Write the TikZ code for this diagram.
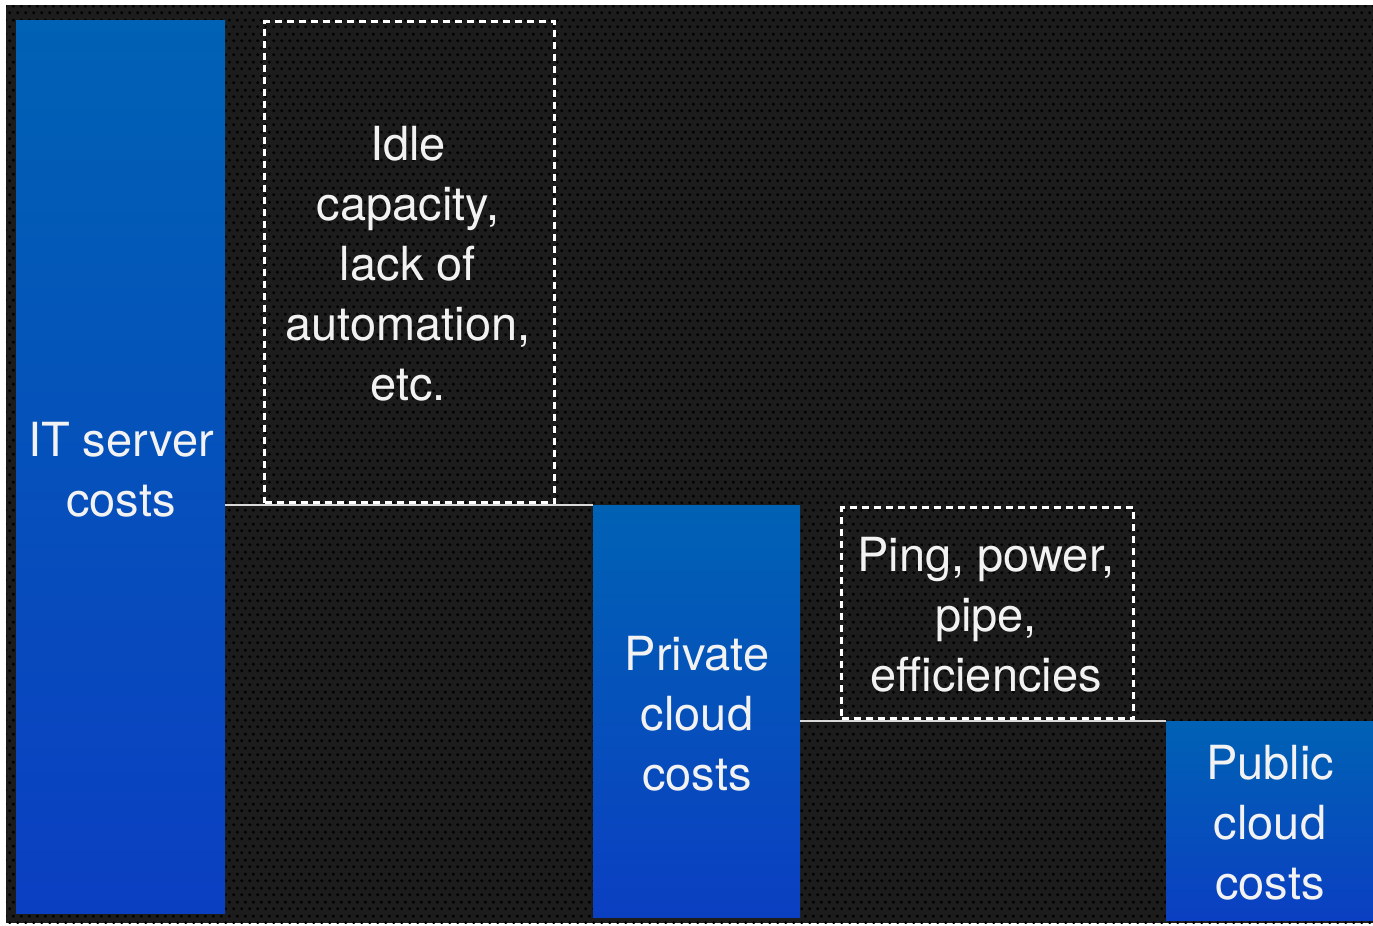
\documentclass[tikz,border=0pt]{standalone}
\usepackage{fontspec}
\setmainfont{TeX Gyre Heros}
\usetikzlibrary{patterns.meta}
\definecolor{bartop}{HTML}{0062B4}
\definecolor{barbot}{HTML}{0B3FC2}
\definecolor{bgdark}{HTML}{1C1C1C}
\definecolor{txt}{HTML}{F2F2F2}
\definecolor{linegray}{HTML}{D8D8D8}
\tikzdeclarepattern{
  name=hexholes,
  type=uncolored,
  bounding box={(0pt,0pt) and (8pt,14pt)},
  tile size={(8pt,14pt)},
  code={
    \fill (2pt,3.5pt) circle (1.8pt);
    \fill (6pt,10.5pt) circle (1.8pt);
  }
}
\tikzset{
  bar/.style={draw=none, top color=bartop, bottom color=barbot, inner sep=0pt, anchor=north west},
  dbox/.style={draw=white, line width=3pt, dash pattern=on 7pt off 5pt, inner sep=0pt, anchor=north west},
  hline/.style={draw=linegray, line width=2pt},
  lbl/.style={text=txt, align=center, font=\fontsize{47}{60}\selectfont, inner sep=0pt}
}
\begin{document}
\begin{tikzpicture}[x=1pt, y=-1pt]
\useasboundingbox (0,0) rectangle (1373,926);
\fill[white] (0,0) rectangle (1373,926);
\fill[bgdark] (6,5) rectangle (1373,923);
\fill[pattern=hexholes, pattern color=black] (6,5) rectangle (1373,923);
% bars
\node[bar, minimum width=209pt, minimum height=893pt] (b1) at (16,20) {};
\node[bar, minimum width=207pt, minimum height=412pt] (b2) at (593,505) {};
\node[bar, minimum width=207pt, minimum height=199pt] (b3) at (1166,721) {};
% dashed boxes
\node[dbox, minimum width=290pt, minimum height=481pt] (d1) at (263,20) {};
\node[dbox, minimum width=292pt, minimum height=211pt] (d2) at (840,506) {};
% horizontal lines
\draw[hline] (b1.east |- b2.north) -- (b2.north west);
\draw[hline] (b2.east |- b3.north) -- (b3.north west);
% labels
\node[lbl] (t1) at (121,470) {IT server\\costs};
\node[lbl] (t2) at (408,264) {Idle\\capacity,\\lack of\\automation,\\etc.};
\node[lbl] (t3) at (697,714) {Private\\cloud\\costs};
\node[lbl] (t4) at (986,615) {Ping, power,\\pipe,\\efficiencies};
\node[lbl] (t5) at (1270,823) {Public\\cloud\\costs};
\end{tikzpicture}
\end{document}
